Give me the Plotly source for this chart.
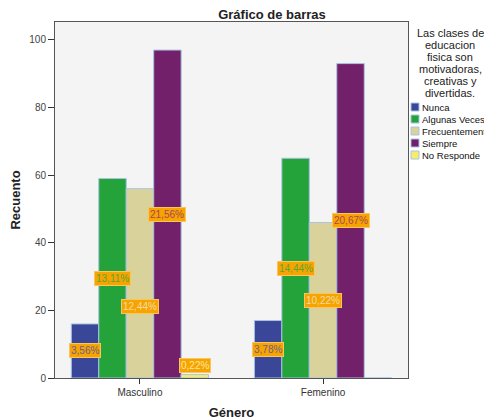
import plotly.graph_objects as go

categories = ["Masculino", "Femenino"]
series_names = ["Nunca", "Algunas Veces", "Frecuentemente", "Siempre", "No Responde"]
nunca = [16, 17]
algunas = [59, 65]
frecuente = [56, 46]
siempre = [97, 93]
no_responde = [1, 0]
values = [nunca, algunas, frecuente, siempre, no_responde]

legend_title_lines = ["Las clases de", "educacion", "fisica son", "motivadoras,", "creativas y", "divertidas."]
bar_colors = ["#3A4798", "#23A33A", "#D9D29A", "#73206B", "#F5EE6A"]
label_text_colors = ["#6F5F8E", "#5AA832", "#F2DDA0", "#A8475A", "#FBE7A0"]
y_ticks = [0, 20, 40, 60, 80, 100]

total = sum(sum(v) for v in values)

W, H = 484, 412  # page body has an 8px margin, so the visible window is 484x412 of figure

fig = go.Figure()
for name, vals, col in zip(series_names, values, bar_colors):
    fig.add_trace(go.Bar(
        x=categories, y=vals, name=name, showlegend=False,
        marker=dict(color=col, line=dict(color="#A9C3E3", width=1)),
    ))

n = len(series_names)
bargap = 0.25
w = (1 - bargap) / n
annotations = []
for j, vals in enumerate(values):
    for i, v in enumerate(vals):
        if v == 0:
            continue
        pct = f"{v / total * 100:.2f}%".replace(".", ",")
        x = i + (j - (n - 1) / 2) * w
        if v < 3:
            y, yanchor, yshift = v, "bottom", 2
        else:
            y, yanchor, yshift = v / 2, "middle", 0
            if j == 2 and i == 0:
                yshift = -23
        annotations.append(dict(
            x=x, y=y, xref="x", yref="y", text=pct, showarrow=False,
            yanchor=yanchor, yshift=yshift,
            font=dict(family="Liberation Sans, Arial", size=10, color=label_text_colors[j]),
            bgcolor="#F7A300", bordercolor="#F9C560", borderwidth=1, borderpad=1,
        ))

# legend drawn beside the plot area (pixel offsets from the top-right corner of the plot)
shapes = []
for k, line in enumerate(legend_title_lines):
    annotations.append(dict(
        x=1, y=1, xref="paper", yref="paper", xshift=42, yshift=-(11 + 12 * k),
        xanchor="center", yanchor="middle", showarrow=False, text=line,
        font=dict(family="Liberation Sans, Arial", size=11, color="#222222"),
    ))
for k, (name, col) in enumerate(zip(series_names, bar_colors)):
    cy = 85 + 12 * k
    shapes.append(dict(
        type="rect", xref="paper", yref="paper", xsizemode="pixel", ysizemode="pixel",
        xanchor=1, yanchor=1, x0=3, x1=11, y0=-(cy - 4), y1=-(cy + 4),
        fillcolor=col, line=dict(color="#A9C3E3", width=1),
    ))
    annotations.append(dict(
        x=1, y=1, xref="paper", yref="paper", xshift=12, yshift=-cy,
        xanchor="left", yanchor="middle", showarrow=False, text=name,
        font=dict(family="Liberation Sans, Arial", size=9.5, color="#111111"),
    ))

fig.update_layout(
    width=W, height=H,
    margin=dict(l=47, r=84, t=14, b=42, autoexpand=False),
    paper_bgcolor="white", plot_bgcolor="#F4F4F4",
    barmode="group", bargap=bargap, bargroupgap=0,
    showlegend=False,
    font=dict(family="Liberation Sans, Arial", size=10, color="#333333"),
    title=dict(text="<b>Gráfico de barras</b>", x=264 / W, xanchor="center",
               y=1 - 1.5 / H, yanchor="top", pad=dict(t=0, b=0),
               font=dict(size=13, color="#222222")),
    xaxis=dict(
        range=[-0.464, 1.464], showline=True, linecolor="#555555", mirror=True,
        ticks="outside", ticklen=5, tickcolor="#333333",
        title=dict(text="<b>Género</b>", font=dict(size=13, color="#222222"), standoff=10),
        tickfont=dict(size=10, color="#333333"),
    ),
    yaxis=dict(
        range=[0, 105.3], tickvals=y_ticks, showgrid=False, zeroline=False,
        showline=True, linecolor="#555555", mirror=True,
        ticks="outside", ticklen=6, tickcolor="#333333",
        title=dict(text="<b>Recuento</b>", font=dict(size=13, color="#222222"), standoff=8),
        tickfont=dict(size=10, color="#444444"),
    ),
    annotations=annotations,
    shapes=shapes,
)

fig.write_html("out.html")
